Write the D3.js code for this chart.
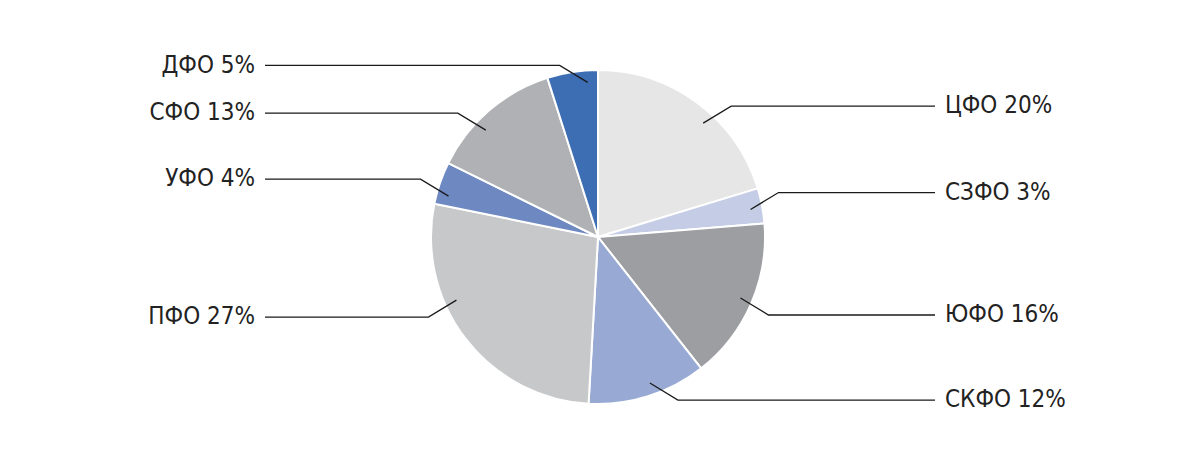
<!DOCTYPE html>
<html>
<head>
<meta charset="utf-8">
<script src="https://cdn.jsdelivr.net/npm/d3@7"></script>
<style>
  body { margin: 0; background: #fff; }
  svg { display: block; }
  .lbl { font-family: "DejaVu Sans Condensed", "DejaVu Sans", sans-serif; font-size: 24px; fill: #222; }
</style>
</head>
<body>
<script>
// federal districts, clockwise from 12 o'clock
var districts = ["ЦФО", "СЗФО", "ЮФО", "СКФО", "ПФО", "УФО", "СФО", "ДФО"];
var shares    = [20.3, 3.4, 15.7, 11.5, 27.3, 4.1, 12.8, 4.9];
var labels    = ["20%", "3%", "16%", "12%", "27%", "4%", "13%", "5%"];
var colors    = ["#e6e6e6", "#c5cde6", "#9d9ea2", "#98aad4", "#c7c8ca", "#6e89c2", "#b0b1b5", "#3d6db3"];

// leader nudges (deg) from slice middle, layout only
var nudge = [6.2, 0.6, -0.4, -2.1, 13.6, -3.6, -5.7, 5];

var width = 1200, height = 453,
    cx = 598, cy = 237, radius = 167;

var svg = d3.select("body").append("svg")
    .attr("width", width)
    .attr("height", height);

var pie = d3.pie().sort(null).value(function (d) { return d; });
var arc = d3.arc().innerRadius(0).outerRadius(radius);
var arcs = pie(shares);

var g = svg.append("g")
    .attr("transform", "translate(" + cx + "," + cy + ")");

g.selectAll("path.slice")
    .data(arcs)
    .enter().append("path")
    .attr("class", "slice")
    .attr("d", arc)
    .attr("fill", function (d, i) { return colors[i]; })
    .attr("stroke", "#fff")
    .attr("stroke-width", 2);

//leader lines
var rIn = radius * 0.928;
arcs.forEach(function (d, i) {
    var a = (d.startAngle + d.endAngle) / 2 + nudge[i] * Math.PI / 180;
    var x0 = Math.sin(a) * rIn, y0 = -Math.cos(a) * rIn;
    var right = x0 > 0;
    var x1 = x0 + (right ? 28 : -28),
        y1 = y0 + (y0 < 0 ? -17 : 17);
    var x2 = right ? 935 - cx : 265 - cx;

    g.append("polyline")
        .attr("points", [[x0, y0], [x1, y1], [x2, y1]].map(function (p) { return p.join(","); }).join(" "))
        .attr("fill", "none")
        .attr("stroke", "#1a1a1a")
        .attr("stroke-width", 1.3);

    g.append("text")
        .attr("class", "lbl")
        .attr("x", right ? x2 + 10 : x2 - 10)
        .attr("y", y1)
        .attr("dy", "0.3em")
        .attr("text-anchor", right ? "start" : "end")
        .text(districts[i] + " " + labels[i]);
});
</script>
</body>
</html>
